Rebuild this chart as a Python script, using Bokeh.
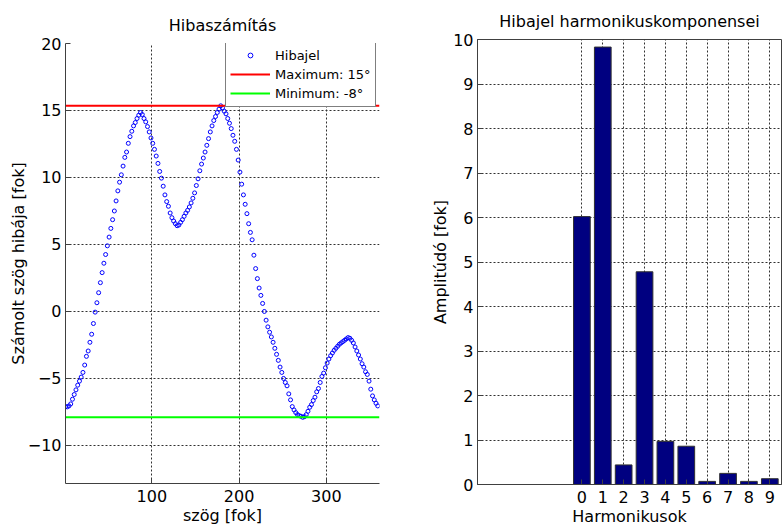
from bokeh.plotting import figure
from bokeh.layouts import row, column
from bokeh.models import FixedTicker, Legend, LegendItem
from bokeh.embed import file_html
from bokeh.resources import INLINE

# Measured angle error over one revolution [deg]
angle = list(range(1, 360, 2))
error = [
    -7.10, -7.12, -7.05, -6.90, -6.55, -6.20, -5.85, -5.50, -5.20, -4.90,
    -4.55, -4.00, -3.35, -2.95, -2.30, -1.70, -0.90, -0.05, 0.65, 1.40,
    2.15, 2.90, 3.60, 4.25, 4.90, 5.55, 6.20, 6.85, 7.50, 8.25,
    9.00, 9.65, 10.20, 10.85, 11.50, 11.90, 12.55, 13.05, 13.45, 13.85,
    14.10, 14.40, 14.65, 14.85, 14.70, 14.40, 14.15, 13.80, 13.40, 12.95,
    12.55, 12.10, 11.60, 11.05, 10.45, 9.95, 9.35, 8.70, 8.20, 7.85,
    7.35, 7.00, 6.75, 6.55, 6.40, 6.45, 6.65, 6.85, 7.10, 7.35,
    7.55, 7.80, 8.10, 8.45, 8.85, 9.40, 9.90, 10.50, 11.00, 11.45,
    11.90, 12.40, 12.90, 13.40, 13.85, 14.25, 14.55, 14.85, 15.10, 15.35,
    15.20, 14.95, 14.75, 14.40, 14.05, 13.65, 13.15, 12.70, 12.10, 11.30,
    10.40, 9.50, 8.70, 8.00, 7.30, 6.55, 5.90, 5.35, 4.20, 3.20,
    2.45, 1.75, 1.20, 0.60, 0.00, -0.65, -1.15, -1.55, -1.90, -2.30,
    -2.75, -3.20, -3.65, -4.15, -4.55, -5.00, -5.30, -5.55, -6.15, -6.60,
    -7.10, -7.35, -7.55, -7.70, -7.78, -7.82, -7.90, -7.85, -7.70, -7.45,
    -7.15, -6.95, -6.65, -6.40, -6.00, -5.75, -5.30, -4.85, -4.60, -4.20,
    -3.85, -3.55, -3.30, -3.10, -2.90, -2.75, -2.60, -2.45, -2.35, -2.25,
    -2.15, -2.05, -1.95, -2.00, -2.15, -2.35, -2.65, -2.95, -3.25, -3.55,
    -3.90, -4.15, -4.50, -4.70, -5.20, -5.80, -6.30, -6.60, -6.85, -7.05,
]

# Harmonic content of the error signal
harmonics = list(range(10))
amplitude = [6.02, 9.83, 0.44, 4.78, 0.97, 0.86, 0.07, 0.25, 0.07, 0.13]

X_LIM = (1, 361)
Y_LIM = (-12.84, 20)
x_ticks = [100, 200, 300]
y_ticks = [-10, -5, 0, 5, 10, 15, 20]
h_x_ticks = harmonics
h_y_ticks = list(range(11))

FONT = "DejaVu Sans"
FRAME = "#404040"


def style(p):
    p.title.text_font = FONT
    p.title.text_font_size = "16px"
    p.title.text_font_style = "normal"
    p.title.text_color = "black"
    p.title.align = "center"
    p.title.vertical_align = "top"
    p.title.standoff = 14
    p.background_fill_color = "white"
    p.border_fill_color = "white"
    p.outline_line_color = FRAME
    p.outline_line_width = 1
    for ax in p.axis:
        ax.major_label_text_font = FONT
        ax.major_label_text_font_size = "16px"
        ax.major_label_text_color = "black"
        ax.axis_label_text_font = FONT
        ax.axis_label_text_font_size = "16px"
        ax.axis_label_text_font_style = "normal"
        ax.axis_label_text_color = "black"
        ax.major_tick_in = 5
        ax.major_tick_out = 0
        ax.major_tick_line_color = FRAME
        ax.minor_tick_line_color = None
        ax.axis_line_color = FRAME
        ax.major_label_standoff = 4
    p.xaxis.major_label_standoff = 6
    p.xaxis.axis_label_standoff = 1
    p.yaxis.axis_label_standoff = 0
    for g in p.grid:
        g.grid_line_color = "#303030"
        g.grid_line_dash = "2 2"
        g.grid_line_width = 1


# Left: error signal with its extremes
p1 = figure(width=400, height=529, x_range=X_LIM, y_range=Y_LIM,
            title="Hibaszámítás", output_backend="svg", toolbar_location=None,
            min_border_left=65, min_border_right=21, min_border_top=43,
            min_border_bottom=46)
p1.xaxis.axis_label = "szög [fok]"
p1.yaxis.axis_label = "Számolt szög hibája [fok]"
p1.xaxis.ticker = FixedTicker(ticks=x_ticks)
p1.yaxis.ticker = FixedTicker(ticks=y_ticks)
style(p1)
p1.outline_line_color = None
p1.yaxis.axis_label_standoff = -3

err_max = max(error)
err_min = min(error)

r_sig = p1.scatter(angle, error, marker="circle", size=4, fill_color=None,
                   line_color="#0000ff", line_width=1)
r_max = p1.line([X_LIM[0], X_LIM[1]], [err_max, err_max],
                line_color="#ff0000", line_width=2)
r_min = p1.line([X_LIM[0], X_LIM[1]], [err_min, err_min],
                line_color="#00ff00", line_width=2)

legend = Legend(items=[
    LegendItem(label="Hibajel", renderers=[r_sig]),
    LegendItem(label=f"Maximum: {round(err_max)}°", renderers=[r_max]),
    LegendItem(label=f"Minimum: {round(err_min)}°", renderers=[r_min]),
], location=(160, 376))
legend.label_text_font = FONT
legend.label_text_font_size = "13px"
legend.label_text_color = "black"
legend.border_line_color = "black"
legend.border_line_width = 1
legend.background_fill_color = "white"
legend.background_fill_alpha = 1
legend.padding = 4
legend.spacing = 1
legend.margin = 0
legend.label_height = 18
legend.glyph_height = 12
legend.glyph_width = 40
legend.label_standoff = 5
p1.add_layout(legend)

# Right: harmonic amplitudes
p2 = figure(width=382, height=529, x_range=(-5, 9.56), y_range=(0, 10),
            title="Hibajel harmonikuskomponensei", output_backend="svg",
            toolbar_location=None, min_border_left=77, min_border_right=1,
            min_border_top=39, min_border_bottom=45)
p2.xaxis.axis_label = "Harmonikusok"
p2.yaxis.axis_label = "Amplitúdó [fok]"
p2.xaxis.ticker = FixedTicker(ticks=h_x_ticks)
p2.yaxis.ticker = FixedTicker(ticks=h_y_ticks)
style(p2)
p2.vbar(x=harmonics, top=amplitude, width=0.8, fill_color="#000080",
        line_color="#303030", line_width=1)

layout = row(column(p1), column(p2))
open("out.html", "w").write(file_html(layout, INLINE))
